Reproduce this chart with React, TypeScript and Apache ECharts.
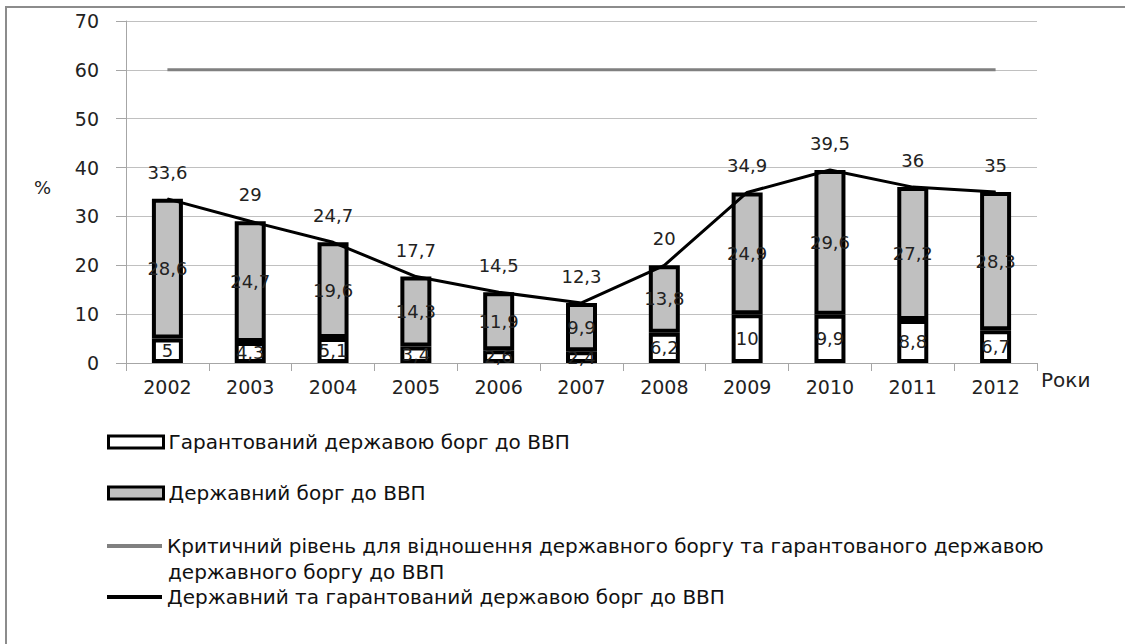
import React, { useEffect, useRef } from "react";
import * as echarts from "echarts";

const years = ["2002", "2003", "2004", "2005", "2006", "2007", "2008", "2009", "2010", "2011", "2012"];
const guaranteedDebt = [5, 4.3, 5.1, 3.4, 2.6, 2.4, 6.2, 10, 9.9, 8.8, 6.7];
const stateDebt = [28.6, 24.7, 19.6, 14.3, 11.9, 9.9, 13.8, 24.9, 29.6, 27.2, 28.3];
const totalDebt = [33.6, 29, 24.7, 17.7, 14.5, 12.3, 20, 34.9, 39.5, 36, 35];
const criticalLevel = [60, 60, 60, 60, 60, 60, 60, 60, 60, 60, 60];

const yMin = 0;
const yMax = 70;
const yInterval = 10;

const nameGuaranteed = "Гарантований державою борг до ВВП";
const nameState = "Державний борг до ВВП";
const nameCritical =
  "Критичний рівень для відношення державного боргу та гарантованого державою державного боргу до ВВП";
const nameCriticalLine1 = "Критичний рівень для відношення державного боргу та гарантованого державою";
const nameCriticalLine2 = "державного боргу до ВВП";
const nameTotal = "Державний та гарантований державою борг до ВВП";
const titleText = "до валового внутрішнього продукту (відсоток державного боргу до ВВП)";
const yUnit = "%";
const xUnit = "Роки";

const fmt = (v: number) => String(v).replace(".", ",");
const FONT = "DejaVu Sans";
const LFONT = "DejaVu Sans";
const LSIZE = 20;

export default function App() {
  const ref = useRef<HTMLDivElement>(null);
  useEffect(() => {
    if (!ref.current) return;
    const chart = echarts.init(ref.current, undefined, { renderer: "svg" });
    const legendBase = {
      orient: "horizontal" as const,
      left: 107,
      itemWidth: 55,
      padding: 0,
      textStyle: { fontFamily: LFONT, fontSize: LSIZE, lineHeight: 22, color: "#111" },
      selectedMode: false,
    };
    chart.setOption({
      animation: false,
      backgroundColor: "#ffffff",
      grid: { left: 126, right: 88, top: 21, bottom: 281, containLabel: false },
      xAxis: {
        type: "category",
        data: years,
        boundaryGap: true,
        axisLine: { lineStyle: { color: "#a6a6a6", width: 1 } },
        axisTick: { show: true, length: 8, lineStyle: { color: "#a6a6a6" } },
        axisLabel: { fontFamily: FONT, fontSize: 19, color: "#222", margin: 14 },
        splitLine: { show: false },
      },
      yAxis: {
        type: "value",
        min: yMin,
        max: yMax,
        interval: yInterval,
        axisLine: { show: true, lineStyle: { color: "#a6a6a6", width: 1 } },
        axisTick: { show: true, length: 10, lineStyle: { color: "#a6a6a6" } },
        axisLabel: { fontFamily: FONT, fontSize: 19, color: "#222", margin: 27 },
        splitLine: { show: true, lineStyle: { color: "#c0c0c0", width: 1 } },
      },
      legend: [
        { ...legendBase, top: 431, itemHeight: 12, data: [{ name: nameGuaranteed, icon: "rect", itemStyle: { color: "#ffffff", borderColor: "#000", borderWidth: 3 } }] },
        { ...legendBase, top: 482, itemHeight: 12, data: [{ name: nameState, icon: "rect", itemStyle: { color: "#c0c0c0", borderColor: "#000", borderWidth: 3 } }] },
        {
          ...legendBase,
          top: 535,
          itemHeight: 4,
          data: [{ name: nameCritical, icon: "rect", itemStyle: { color: "#808080", borderWidth: 0 } }],
          formatter: () => nameCriticalLine1,
        },
        { ...legendBase, top: 586, itemHeight: 4, data: [{ name: nameTotal, icon: "rect", itemStyle: { color: "#000", borderWidth: 0 } }] },
      ],
      graphic: [
        {
          type: "text",
          left: 215,
          top: -24,
          style: { text: titleText, font: "bold 23px 'Liberation Serif', serif", fill: "#000" },
          silent: true,
        },
        {
          type: "rect",
          shape: { x: 6, y: 7, width: 1200, height: 800 },
          style: { fill: "none", stroke: "#8c8c8c", lineWidth: 2 },
          silent: true,
        },
        {
          type: "text",
          left: 34,
          top: 178,
          style: { text: yUnit, fontFamily: FONT, fontSize: 18, fill: "#222" },
          silent: true,
        },
        {
          type: "text",
          left: 1041,
          top: 370,
          style: { text: xUnit, fontFamily: FONT, fontSize: 20, fill: "#222" },
          silent: true,
        },
        {
          type: "text",
          left: 168,
          top: 561,
          style: { text: nameCriticalLine2, fontFamily: LFONT, fontSize: LSIZE, lineHeight: 22, fill: "#111" },
          silent: true,
        },
      ],
      series: [
        {
          name: nameGuaranteed,
          type: "bar",
          stack: "debt",
          barWidth: 31,
          data: guaranteedDebt,
          itemStyle: { color: "#ffffff", borderColor: "#000", borderWidth: 4 },
          label: { show: true, position: "inside", formatter: (p: any) => fmt(p.value), fontFamily: FONT, fontSize: 18, color: "#222" },
          z: 2,
        },
        {
          name: nameState,
          type: "bar",
          stack: "debt",
          barWidth: 31,
          data: stateDebt,
          itemStyle: { color: "#c0c0c0", borderColor: "#000", borderWidth: 4 },
          label: { show: true, position: "inside", formatter: (p: any) => fmt(p.value), fontFamily: FONT, fontSize: 18, color: "#222" },
          z: 2,
        },
        {
          name: nameCritical,
          type: "line",
          data: criticalLevel,
          symbol: "none",
          lineStyle: { color: "#808080", width: 3 },
          itemStyle: { color: "#808080" },
          z: 3,
        },
        {
          name: nameTotal,
          type: "line",
          data: totalDebt,
          symbol: "circle",
          symbolSize: 1,
          showSymbol: true,
          lineStyle: { color: "#000", width: 3 },
          itemStyle: { color: "#000" },
          label: { show: true, position: "top", distance: 17, formatter: (p: any) => fmt(p.value), fontFamily: FONT, fontSize: 18, color: "#222" },
          z: 4,
        },
      ],
    });
    return () => chart.dispose();
  }, []);
  return (
    <div
      ref={ref}
      style={{ position: "fixed", left: 0, top: 0, width: 1125, height: 644, background: "#fff" }}
    />
  );
}
